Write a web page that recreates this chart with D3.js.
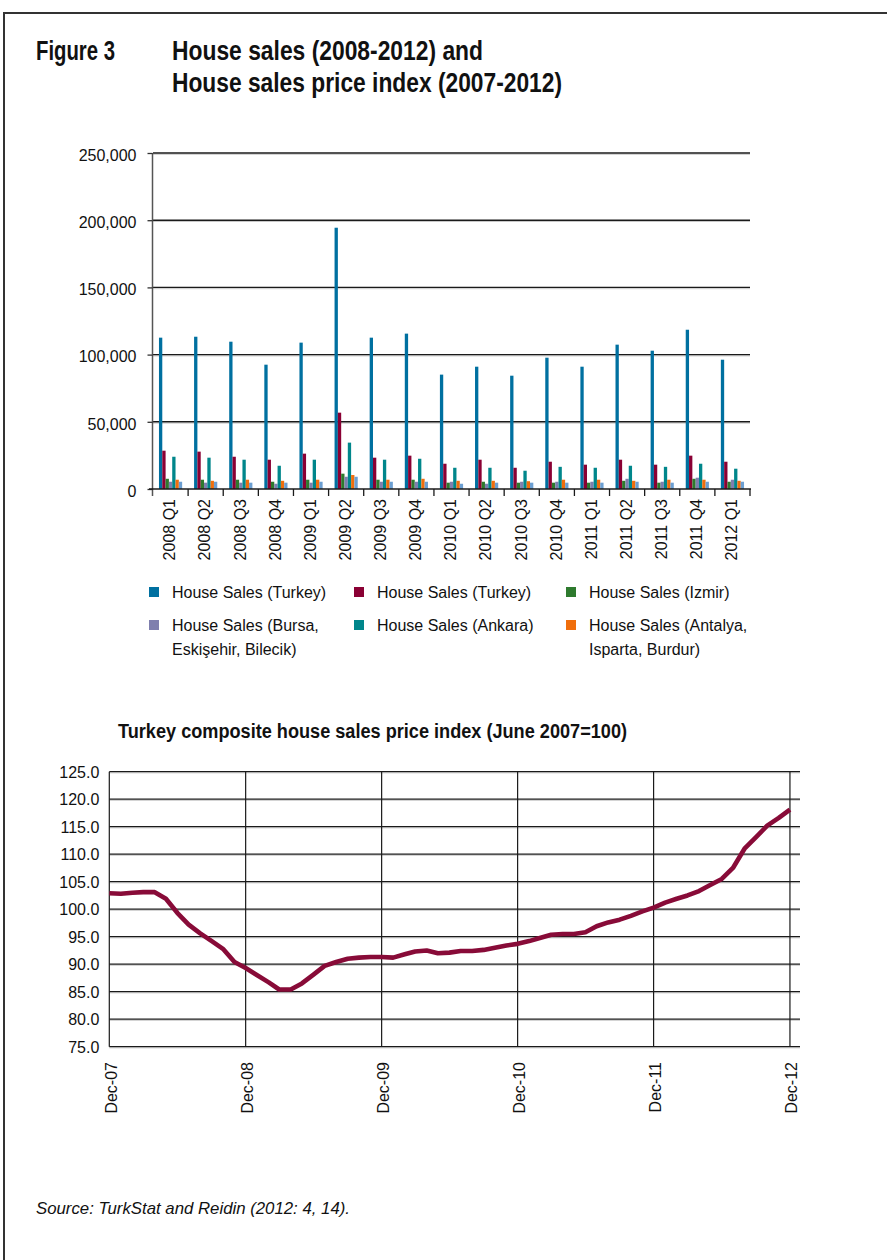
<!DOCTYPE html>
<html>
<head>
<meta charset="utf-8">
<script src="https://cdn.jsdelivr.net/npm/d3@7/dist/d3.min.js"></script>
<style>
  html, body { margin: 0; padding: 0; background: #fff; }
  svg { display: block; }
  text { font-family: "Liberation Sans", Arial, Helvetica, sans-serif; fill: #111; }
</style>
</head>
<body>
<svg id="chart" width="887" height="1260"></svg>
<script>
// ---------- Data: bar chart ----------
const quarters = ["2008 Q1","2008 Q2","2008 Q3","2008 Q4","2009 Q1","2009 Q2","2009 Q3","2009 Q4",
                  "2010 Q1","2010 Q2","2010 Q3","2010 Q4","2011 Q1","2011 Q2","2011 Q3","2011 Q4","2012 Q1"];
const seriesNames = ["House Sales (Turkey)","House Sales (Turkey)","House Sales (Izmir)",
                     "House Sales (Bursa, Eskişehir, Bilecik)","House Sales (Ankara)",
                     "House Sales (Antalya, Isparta, Burdur)","House Sales (other)"];
const salesTurkeyA  = [112600,113300,109600,92500,108900,194400,112600,115600,85100,91000,84300,97700,91000,107400,102900,118500,96200];
const salesTurkeyB  = [28500,27800,24000,21800,26300,56800,23300,24800,18800,21800,15800,20300,18100,21800,18100,24800,20300];
const salesIzmir    = [7600,6900,6900,5400,6900,11400,6900,6900,4700,5400,4700,4700,4700,6100,4700,7600,5400];
const salesBursa    = [5400,4700,4700,3900,4700,9100,5400,5400,5400,3900,5400,5400,5400,7600,5400,8400,6900];
const salesAnkara   = [24000,23300,21800,17300,21800,34500,21800,22500,15800,15800,13600,16500,15800,17300,16500,18800,15100];
const salesAntalya  = [6900,6100,6900,6100,6900,10400,6900,7600,6100,6100,5800,6900,6900,6100,6900,6900,6100];
const salesOther    = [5400,5400,4700,4700,5400,9100,5400,5400,3900,4700,4700,4700,4700,5400,4700,5400,5400];
const barSeries = [salesTurkeyA, salesTurkeyB, salesIzmir, salesBursa, salesAnkara, salesAntalya, salesOther];
const barColors = ["#0070a0","#8a0034","#2e7a2e","#7f7fae","#00868b","#f06e0c","#6c9fd2"];
const barTicks = [0,50000,100000,150000,200000,250000];

// ---------- Data: price index (monthly, Dec-07 .. Dec-12) ----------
const indexValues = [102.9,102.8,103.0,103.1,103.1,101.9,99.3,97.2,95.6,94.2,92.8,90.4,
                     89.3,88.0,86.7,85.4,85.4,86.5,88.1,89.7,90.4,91.0,91.2,91.3,
                     91.3,91.2,91.8,92.3,92.5,92.0,92.1,92.4,92.4,92.6,93.0,93.4,
                     93.7,94.2,94.8,95.35,95.5,95.5,95.8,96.9,97.6,98.1,98.8,99.6,
                     100.3,101.2,101.9,102.5,103.3,104.4,105.5,107.5,111.0,113.1,115.2,116.6,118.1];
const indexTicks = [75,80,85,90,95,100,105,110,115,120,125];
const indexXTickLabels = ["Dec-07","Dec-08","Dec-09","Dec-10","Dec-11","Dec-12"];

const svg = d3.select("#chart");

// ---------- Frame ----------
svg.append("path")
  .attr("d", "M4,1270 L4,13 L900,13")
  .attr("fill", "none").attr("stroke", "#333").attr("stroke-width", 2);

// ---------- Header ----------
const hdr = svg.append("g").style("font-weight", "bold");
hdr.append("text").attr("x", 36).attr("y", 60).style("font-size", "27px")
  .attr("textLength", 79).attr("lengthAdjust", "spacingAndGlyphs").text("Figure 3");
hdr.append("text").attr("x", 172).attr("y", 60).style("font-size", "27px")
  .attr("textLength", 311).attr("lengthAdjust", "spacingAndGlyphs").text("House sales (2008-2012) and");
hdr.append("text").attr("x", 172).attr("y", 92).style("font-size", "27px")
  .attr("textLength", 390).attr("lengthAdjust", "spacingAndGlyphs").text("House sales price index (2007-2012)");

// ---------- Bar chart ----------
const bx = d3.scaleBand().domain(quarters).range([153, 750]);
const bInner = d3.scaleBand().domain(d3.range(barSeries.length))
  .range([bx.bandwidth() * 0.17, bx.bandwidth() * 0.83]);
const by = d3.scaleLinear().domain([0, 250000]).range([489, 153]);

// gridlines
const bGrid = svg.append("g");
barTicks.filter(t => t > 0).forEach(t => {
  bGrid.append("line").attr("x1", 153).attr("x2", 750).attr("y1", by(t) + 1.3).attr("y2", by(t) + 1.3)
    .attr("stroke", "#c8c8c8").attr("stroke-width", 1);
  bGrid.append("line").attr("x1", 153).attr("x2", 750).attr("y1", by(t)).attr("y2", by(t))
    .attr("stroke", "#1a1a1a").attr("stroke-width", 1.4);
});

// bars
const bars = svg.append("g");
barSeries.forEach((vals, si) => {
  bars.selectAll(null).data(vals).enter().append("rect")
    .attr("x", (d, i) => bx(quarters[i]) + bInner(si))
    .attr("width", bInner.bandwidth())
    .attr("y", d => by(d))
    .attr("height", d => by(0) - by(d))
    .attr("fill", barColors[si]);
});

// y axis
const yAxisB = svg.append("g").attr("transform", "translate(152.5,0)")
  .call(d3.axisLeft(by).tickValues(barTicks).tickFormat(d3.format(",")).tickSize(5).tickPadding(11));
yAxisB.select(".domain").attr("d", "M0,153V496").attr("stroke", "#555").attr("stroke-width", 1.5);
yAxisB.selectAll(".tick line").attr("stroke", "#333").attr("stroke-width", 1.3);
yAxisB.selectAll(".tick text").style("font-size", "16px").attr("dy", "0.45em");

// x axis (ticks at band boundaries)
const xAxisB = svg.append("g").attr("transform", "translate(0,489)");
xAxisB.append("line").attr("x1", 149).attr("x2", 751).attr("y1", 0).attr("y2", 0)
  .attr("stroke", "#1a1a1a").attr("stroke-width", 1.6);
xAxisB.selectAll(".btick").data(quarters.slice(1).concat(["__end"])).enter().append("line")
  .attr("x1", d => d === "__end" ? bx.range()[1] : bx(d))
  .attr("x2", d => d === "__end" ? bx.range()[1] : bx(d))
  .attr("y1", 0).attr("y2", 7).attr("stroke", "#1a1a1a").attr("stroke-width", 1.3);
xAxisB.selectAll(".blabel").data(quarters).enter().append("text")
  .attr("transform", d => `translate(${bx(d) + bx.bandwidth() / 2 - 1},10) rotate(-90)`)
  .attr("text-anchor", "end").attr("dy", "0.36em")
  .style("font-size", "16px").text(d => d);

// legend
const legendPos = [
  {x: 149, y: 592}, {x: 354, y: 592}, {x: 566, y: 592},
  {x: 149, y: 625}, {x: 354, y: 625}, {x: 566, y: 625}
];
const legend = svg.append("g");
legendPos.forEach((p, i) => {
  legend.append("rect").attr("x", p.x).attr("y", p.y - 5).attr("width", 10).attr("height", 10)
    .attr("fill", barColors[i]);
  const name = seriesNames[i];
  const t = legend.append("text").attr("x", p.x + 23).attr("y", p.y).attr("dy", "0.36em")
    .style("font-size", "16px");
  const m = name.match(/^(.*\(\S+,)\s(.*)$/);
  if (m) {
    t.append("tspan").attr("x", p.x + 23).text(m[1]);
    t.append("tspan").attr("x", p.x + 23).attr("dy", 24).text(m[2]);
  } else {
    t.text(name);
  }
});

// ---------- Line chart ----------
svg.append("text").attr("x", 118).attr("y", 738).style("font-weight", "bold").style("font-size", "20px")
  .attr("textLength", 509).attr("lengthAdjust", "spacingAndGlyphs")
  .text("Turkey composite house sales price index (June 2007=100)");

const dates = indexValues.map((v, i) => new Date(Date.UTC(2007, 11 + i, 1)));
const lx = d3.scaleUtc().domain([new Date(Date.UTC(2007, 11, 1)), new Date(Date.UTC(2013, 0, 1))])
  .range([109.3, 801.5]);
const ly = d3.scaleLinear().domain([75, 125]).range([1046.7, 771.7]);
const decTicks = d3.range(2007, 2013).map(y => new Date(Date.UTC(y, 11, 1)));

const lg = svg.append("g");
indexTicks.forEach(t => {
  lg.append("line").attr("x1", 109.3).attr("x2", 800).attr("y1", ly(t) + 1.2).attr("y2", ly(t) + 1.2)
    .attr("stroke", "#cfcfcf").attr("stroke-width", 1);
  lg.append("line").attr("x1", 109.3).attr("x2", 800).attr("y1", ly(t)).attr("y2", ly(t))
    .attr("stroke", "#1a1a1a").attr("stroke-width", 1.2);
});
decTicks.forEach(d => {
  lg.append("line").attr("x1", lx(d)).attr("x2", lx(d)).attr("y1", ly(125)).attr("y2", ly(75))
    .attr("stroke", "#1a1a1a").attr("stroke-width", 1.2);
});

// y axis labels
const yAxisL = svg.append("g").attr("transform", "translate(109.3,0)")
  .call(d3.axisLeft(ly).tickValues(indexTicks).tickFormat(d3.format(".1f")).tickSize(0).tickPadding(10));
yAxisL.select(".domain").remove();
yAxisL.selectAll(".tick text").style("font-size", "16px").attr("dy", "0.36em");

// x axis labels
const xAxisL = svg.append("g").attr("transform", "translate(0,1062)");
xAxisL.selectAll("text").data(decTicks).enter().append("text")
  .attr("transform", d => `translate(${lx(d) + 1.5},0) rotate(-90)`)
  .attr("text-anchor", "end").attr("dy", "0.36em")
  .style("font-size", "16px").text((d, i) => indexXTickLabels[i]);

// line
svg.append("path")
  .datum(indexValues)
  .attr("fill", "none").attr("stroke", "#880b38").attr("stroke-width", 4.6)
  .attr("stroke-linejoin", "round")
  .attr("d", d3.line().x((d, i) => lx(dates[i])).y(d => ly(d)));

// ---------- Source ----------
svg.append("text").attr("x", 36).attr("y", 1214).style("font-style", "italic").style("font-size", "17px")
  .attr("textLength", 314).attr("lengthAdjust", "spacingAndGlyphs")
  .text("Source: TurkStat and Reidin (2012: 4, 14).");
</script>
</body>
</html>
